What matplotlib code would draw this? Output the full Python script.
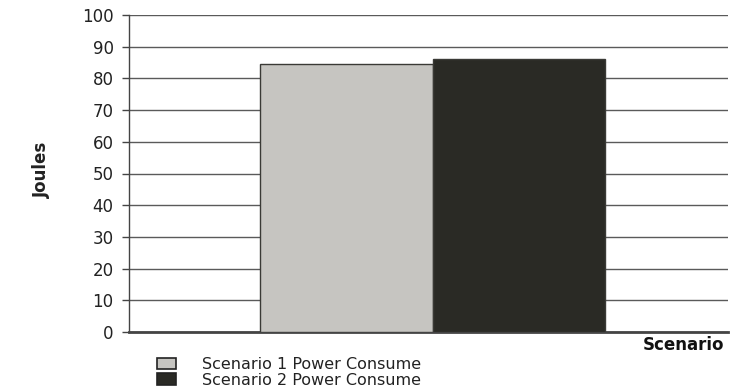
import matplotlib
matplotlib.use("Agg")
import matplotlib.pyplot as plt
from matplotlib.patches import Patch

# Data
series_labels = ["Scenario 1 Power Consume", "Scenario 2 Power Consume"]
series_values = [84.5, 86.2]
series_colors = ["#c6c5c1", "#2a2a25"]
y_ticks = [0, 10, 20, 30, 40, 50, 60, 70, 80, 90, 100]

fig = plt.figure(figsize=(7.30, 3.91), dpi=100)
ax = fig.add_axes([129 / 730, 1 - 332 / 391, (728 - 129) / 730, (332 - 15) / 391])

positions = [0, 1]
for pos, val, col in zip(positions, series_values, series_colors):
    ax.bar(pos, val, width=1.0, color=col, edgecolor="#3a3a36", linewidth=1.0, zorder=3)

ax.set_xlim(-1.26, 2.21)
ax.set_ylim(0, 100)
ax.set_yticks(y_ticks)
ax.set_xticks([])
ax.yaxis.grid(True, color="#5a5a5a", linewidth=1.0, zorder=0)
ax.set_axisbelow(True)

for side in ("top", "right"):
    ax.spines[side].set_visible(False)
ax.spines["left"].set_color("#444444")
ax.spines["left"].set_linewidth(1.0)
ax.spines["bottom"].set_color("#444444")
ax.spines["bottom"].set_linewidth(2.0)

ax.tick_params(axis="y", direction="out", length=5, width=1, color="#444444",
               labelsize=12, labelcolor="#222222", pad=6)

fig.text(42 / 730, 1 - 170 / 391, "Joules", rotation=90, ha="center", va="center",
         fontsize=12, fontweight="bold",
         fontfamily=["Liberation Sans Narrow", "DejaVu Sans"], color="#222222")

fig.text(724 / 730, 1 - 345 / 391, "Scenario", ha="right", va="center",
         fontsize=12, fontweight="bold", color="#111111")

handles = [Patch(facecolor=c, edgecolor="#222222", linewidth=1.2) for c in series_colors]
fig.legend(handles, series_labels, loc="upper left",
           bbox_to_anchor=(157 / 730, 1 - 357 / 391), frameon=False,
           fontsize=11.5, handlelength=1.2, handleheight=0.75, handletextpad=1.6,
           labelspacing=0.05, borderpad=0, borderaxespad=0, labelcolor="#222222")

fig.savefig("out.png", dpi=100, facecolor="white")
